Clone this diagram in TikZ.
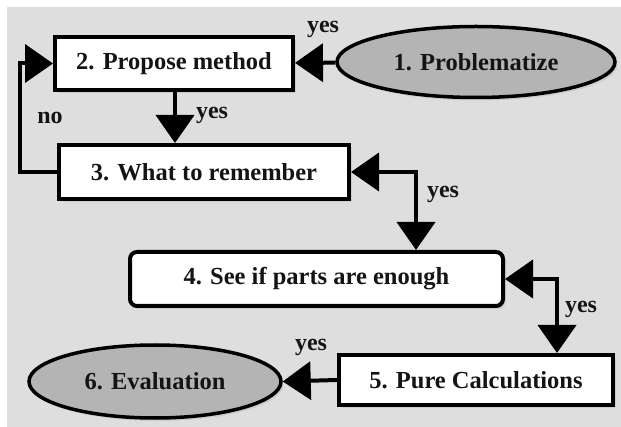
\documentclass[tikz,border=0pt]{standalone}
\usepackage{fontspec}
\setmainfont{Liberation Serif}
\usetikzlibrary{arrows.meta,shapes.geometric,shadows}
\definecolor{panel}{HTML}{DEDEDE}
\definecolor{oval}{HTML}{B4B4B4}
\definecolor{ink}{HTML}{141414}
\tikzset{
  softshadow/.style={drop shadow={opacity=0.18,shadow xshift=2.5pt,shadow yshift=-3pt}},
  stepbox/.style={draw,line width=4pt,fill=white,rectangle,inner sep=0pt,text=ink,
    font=\fontsize{24.5}{27}\selectfont\bfseries,softshadow},
  terminal/.style={draw,line width=3.5pt,fill=oval,ellipse,inner sep=0pt,text=ink,
    font=\fontsize{24.5}{27}\selectfont\bfseries,softshadow},
  flow/.style={line width=4pt,-{Triangle[length=28pt,width=38pt]}},
  twoway/.style={line width=4pt,{Triangle[length=28pt,width=38pt]}-{Triangle[length=28pt,width=38pt]}},
  tag/.style={font=\fontsize{24}{26}\selectfont\bfseries,inner sep=0pt,text=ink}
}
\begin{document}
\begin{tikzpicture}[x=1pt,y=-1pt]
  \useasboundingbox (0,0) rectangle (621,427);
  \fill[white] (0,0) rectangle (621,427);
  \fill[panel] (7,7) rectangle (621,427);

  % process steps
  \node[terminal,minimum width=278pt,minimum height=71pt] (p1) at (476,62) {1. Problematize};
  \node[stepbox,minimum width=238pt,minimum height=53pt] (p2) at (174,63.5) {2. Propose method};
  \node[stepbox,minimum width=290pt,minimum height=54pt] (p3) at (204,172) {3. What to remember};
  \node[stepbox,rounded corners=7pt,minimum width=373pt,minimum height=54pt] (p4) at (316.5,279) {4. See if parts are enough};
  \node[stepbox,minimum width=274pt,minimum height=50pt] (p5) at (476,380) {5. Pure Calculations};
  \node[terminal,minimum width=252pt,minimum height=73pt] (p6) at (155,381.5) {6. Evaluation};

  % bend points of the routed connectors
  \coordinate (noA) at (20,172);
  \coordinate (noB) at (20,63.5);
  \coordinate (k34) at (416,172);
  \coordinate (k45) at (557,279);

  % connectors
  \draw[flow] (p1) -- (p2);
  \draw[flow] (p2.south -| 175,0) -- (p3.north -| 175,0);
  \draw[flow] (p3.west) -- (noA) -- (noB) -- (p2.west);
  \draw[twoway] (p3.east) -- (k34) -- (k34 |- p4.north);
  \draw[twoway] (p4.east) -- (k45) -- (k45 |- p5.north);
  \draw[flow] (p5.west) -- (p6.east);

  % connector labels
  \node[tag] (y12) at (323,29) {yes};
  \node[tag] (y23) at (212,115) {yes};
  \node[tag] (n32) at (50,118) {no};
  \node[tag] (y34) at (443,194) {yes};
  \node[tag] (y45) at (581,309) {yes};
  \node[tag] (y56) at (311,347) {yes};
\end{tikzpicture}
\end{document}
